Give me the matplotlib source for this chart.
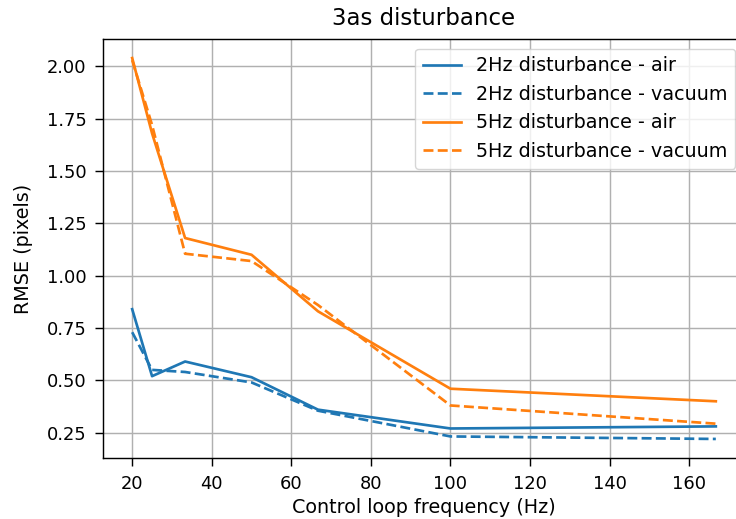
import numpy as np
import matplotlib
matplotlib.use('Agg')
import matplotlib.pyplot as plt

# control loop frequency (Hz)
freq = [20, 25, 33.3, 50, 66.7, 100, 166.7]

rmse_2hz_air = [0.84, 0.52, 0.59, 0.515, 0.36, 0.27, 0.28]
rmse_2hz_vac = [0.73, 0.55, 0.54, 0.49, 0.355, 0.232, 0.22]
rmse_5hz_air = [2.04, 1.68, 1.18, 1.10, 0.83, 0.46, 0.40]
rmse_5hz_vac = [2.03, 1.72, 1.105, 1.07, 0.86, 0.38, 0.293]

s = 1.29
plt.rcParams['font.size'] = 10 * s

fig = plt.figure(figsize=(7.36, 5.19), dpi=100)
ax = fig.add_axes([103 / 736, 1 - 458 / 519, 642 / 736, 419 / 519])

ax.plot(freq, rmse_2hz_air, color='C0', lw=1.5 * s, label='2Hz disturbance - air')
ax.plot(freq, rmse_2hz_vac, color='C0', lw=1.5 * s, ls='--', label='2Hz disturbance - vacuum')
ax.plot(freq, rmse_5hz_air, color='C1', lw=1.5 * s, label='5Hz disturbance - air')
ax.plot(freq, rmse_5hz_vac, color='C1', lw=1.5 * s, ls='--', label='5Hz disturbance - vacuum')

ax.set_xticks([20, 40, 60, 80, 100, 120, 140, 160])
ax.set_yticks([0.25, 0.5, 0.75, 1.0, 1.25, 1.5, 1.75, 2.0])
ax.grid(True, lw=0.8 * s)
ax.tick_params(width=0.8 * s, length=6, pad=6, labelsize=12.9)
for sp in ax.spines.values():
    sp.set_linewidth(0.8 * s)

ax.set_xlabel('Control loop frequency (Hz)', fontsize=13.8, labelpad=4)
ax.set_ylabel('RMSE (pixels)', fontsize=13.8, labelpad=10)
ax.set_title('3as disturbance', fontsize=16.5, pad=10)
ax.legend(loc='upper right', fontsize=13.8)

plt.savefig('out.png', dpi=100)
plt.close()
